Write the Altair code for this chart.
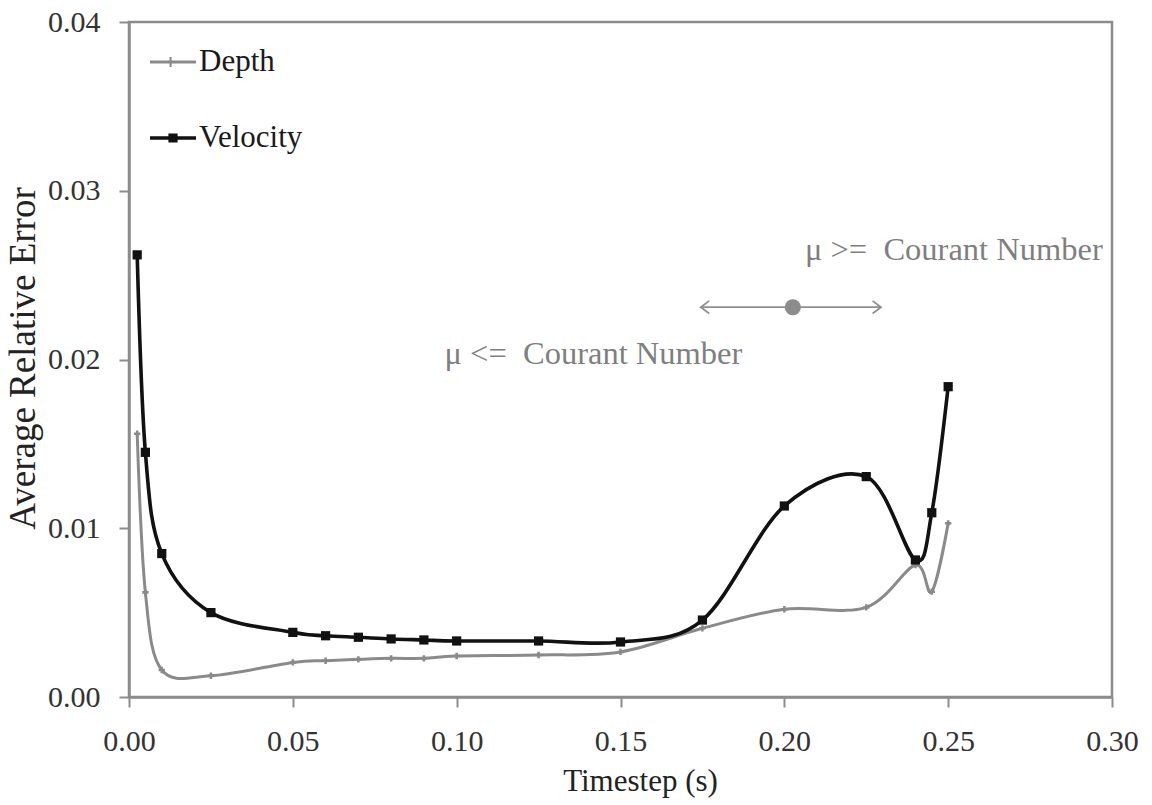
import altair as alt
import pandas as pd

# ---- data ----
timestep = [0.0025, 0.005, 0.01, 0.025, 0.05, 0.06, 0.07, 0.08, 0.09, 0.10,
            0.125, 0.15, 0.175, 0.20, 0.225, 0.24, 0.245, 0.25]
depth = [0.0156, 0.0062, 0.0016, 0.00126, 0.00205, 0.00215, 0.00223, 0.00229,
         0.00229, 0.00243, 0.00249, 0.00267, 0.00407, 0.0052, 0.00531,
         0.00782, 0.00624, 0.01029]
velocity = [0.0262, 0.0145, 0.0085, 0.0050, 0.00383, 0.00363, 0.00354,
            0.00344, 0.00338, 0.00332, 0.00332, 0.00326, 0.00456, 0.01132,
            0.01306, 0.00812, 0.01092, 0.01839]
series_names = ["Depth", "Velocity"]
x_ticks = [0.0, 0.05, 0.10, 0.15, 0.20, 0.25, 0.30]
y_ticks = [0.0, 0.01, 0.02, 0.03, 0.04]

# annotation (data coordinates)
ann_labels = ["\u03bc >=\u00a0 Courant Number", "\u03bc <=\u00a0 Courant Number"]
ann_label_x = [0.2063, 0.0963]
ann_label_y = [0.0265, 0.0203]
arrow_x = [0.1745, 0.2295]
arrow_y = [0.0231, 0.0231]
dot_x = [0.2026]
dot_y = [0.0231]

GRAY = "#8a8a8a"
BLACK = "#111111"
AX = "#8c8c8c"
FONT = "Liberation Serif"

df_d = pd.DataFrame({"timestep": timestep, "value": depth})
df_v = pd.DataFrame({"timestep": timestep, "value": velocity})
df_leg = pd.DataFrame({"series": series_names})
df_ann = pd.DataFrame({"x": ann_label_x, "y": ann_label_y, "label": ann_labels})
df_arrow = pd.DataFrame({"x": [arrow_x[0]], "x2": [arrow_x[1]], "y": [arrow_y[0]]})
df_left = pd.DataFrame({"x": [arrow_x[0]], "y": [arrow_y[0]]})
df_right = pd.DataFrame({"x": [arrow_x[1]], "y": [arrow_y[1]]})
df_dot = pd.DataFrame({"x": dot_x, "y": dot_y})

xs = alt.Scale(domain=[0, 0.3], nice=False)
ys = alt.Scale(domain=[0, 0.04], nice=False)

X = alt.X("timestep:Q", scale=xs,
          axis=alt.Axis(values=x_ticks, format=".2f", title="Timestep (s)",
                        titleX=511, titleY=93, titleBaseline="alphabetic",
                        titleFontSize=31, labelPadding=19, labelFlush=False))
Y = alt.Y("value:Q", scale=ys,
          axis=alt.Axis(values=y_ticks, format=".2f", title="Average Relative Error",
                        titleX=-106, titleY=336, titleBaseline="middle",
                        titleAngle=-90, titleFontSize=37, labelPadding=19,
                        labelFlush=False))

line_d = alt.Chart(df_d).mark_line(color=GRAY, strokeWidth=3, interpolate="cardinal").encode(x=X, y=Y)
line_v = alt.Chart(df_v).mark_line(color=BLACK, strokeWidth=3.6, interpolate="cardinal").encode(x=X, y=Y)
pts_d = alt.Chart(df_d).mark_point(shape="cross", filled=True, color=GRAY, size=40, opacity=1).encode(x=X, y=Y)
pts_v = alt.Chart(df_v).mark_point(shape="square", filled=True, color=BLACK, size=85, opacity=1).encode(x=X, y=Y)

depth_path = "M-1,-0.06H1V0.06H-1Z M-0.15,-0.22H-0.06V0.22H-0.15Z"
vel_path = "M-1,-0.075H1V0.075H-1Z M-0.2,-0.2H0.2V0.2H-0.2Z"
leg = alt.Legend(title=None, orient="none", legendX=21, legendY=17,
                 symbolSize=2116, symbolStrokeWidth=0, labelFont=FONT,
                 labelFontSize=31, labelColor="#1a1a1a", labelOffset=3,
                 rowPadding=38, padding=0)
legend_layer = alt.Chart(df_leg).mark_point(filled=True, opacity=1).encode(
    x=alt.value(-5000), y=alt.value(-5000),
    color=alt.Color("series:N", scale=alt.Scale(domain=series_names, range=[GRAY, BLACK]), legend=leg),
    shape=alt.Shape("series:N", scale=alt.Scale(domain=series_names, range=[depth_path, vel_path]), legend=leg),
)

ann_text = alt.Chart(df_ann).mark_text(align="left", baseline="middle", font=FONT,
                                       fontSize=32.5, color="#7f7f7f").encode(
    x=alt.X("x:Q", scale=xs), y=alt.Y("y:Q", scale=ys), text="label:N")
arrow = alt.Chart(df_arrow).mark_rule(color="#909090", strokeWidth=1.8).encode(
    x=alt.X("x:Q", scale=xs), x2="x2:Q", y=alt.Y("y:Q", scale=ys))
head_l = alt.Chart(df_left).mark_point(shape="M1.2,-0.9L0,0L1.2,0.9", filled=False,
                                       color="#909090", strokeWidth=1.8, size=196, opacity=1).encode(
    x=alt.X("x:Q", scale=xs), y=alt.Y("y:Q", scale=ys))
head_r = alt.Chart(df_right).mark_point(shape="M-1.2,-0.9L0,0L-1.2,0.9", filled=False,
                                        color="#909090", strokeWidth=1.8, size=196, opacity=1).encode(
    x=alt.X("x:Q", scale=xs), y=alt.Y("y:Q", scale=ys))
dot = alt.Chart(df_dot).mark_circle(size=260, color="#8c8c8c", opacity=1).encode(
    x=alt.X("x:Q", scale=xs), y=alt.Y("y:Q", scale=ys))

chart = alt.layer(line_d, line_v, pts_d, pts_v, legend_layer, ann_text, arrow, head_l, head_r, dot).properties(
    width=983, height=675,
    padding={"left": 129, "top": 22, "right": 40, "bottom": 108},
    autosize=alt.AutoSizeParams(type="none"),
    background="white",
).configure_view(
    stroke=AX, strokeWidth=2.5
).configure_axis(
    grid=False, domainColor=AX, domainWidth=2.5, tickColor=AX, tickWidth=2,
    tickSize=10, labelFont=FONT, labelFontSize=30, labelColor="#333333",
    titleFont=FONT, titleColor="#222222", titleFontWeight="normal",
)

chart.save("out.html", embed_options={"renderer": "svg", "actions": False})
